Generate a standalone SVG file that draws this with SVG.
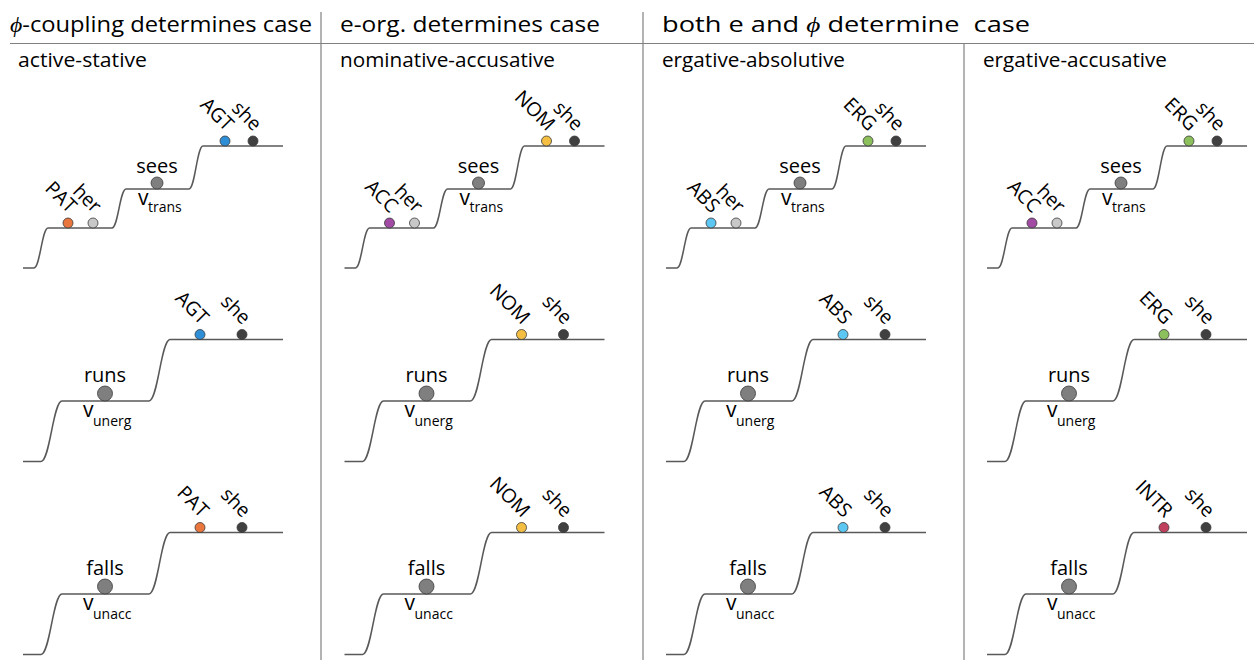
<svg xmlns="http://www.w3.org/2000/svg" xmlns:xlink="http://www.w3.org/1999/xlink" width="1254" height="660" viewBox="0 0 1254 660">
<style>
text{font-family:"Open Sans","Noto Sans","Liberation Sans",sans-serif;fill:#000;font-weight:400}
.title{font-size:21px}
.sub{font-size:20px}
.verb{font-size:20px;text-anchor:middle}
.v{font-size:21px}
.vs{font-size:14px}
.rl{font-size:19.5px;text-anchor:end}
.phi{font-family:"Liberation Serif","DejaVu Serif",serif;font-style:italic}
.div{stroke:#808080;stroke-width:1.2;fill:none}
.step{stroke:#595959;stroke-width:1.5;fill:none}
circle{stroke:#3a3a3a;stroke-width:0.8}
.she{fill:#404040}.her{fill:#c8c8c8}.vb{fill:#7f7f7f}
.pat{fill:#e9773d}.agt{fill:#2f8fd6}.acc{fill:#a24ba5}.nom{fill:#f4be43}
.abs{fill:#5cc7f2}.erg{fill:#8cc05c}.intr{fill:#c1405d}
</style>
<defs>
<path id="s3" class="step" d="M23,268 H34 C40,268 42,228 48,228 H112 C118,228 120,189 126,189 H189 C195,189 197,146 203,146 H283"/>
<path id="s2" class="step" d="M23,461.5 H41 C50,461.5 53,401 62,401 H149 C158,401 161,339.5 170,339.5 H283"/>
</defs>

<g id="headers">
<text class="title" x="10" y="32" textLength="302" lengthAdjust="spacingAndGlyphs"><tspan class="phi">ϕ</tspan>-coupling determines case</text>
<text class="title" x="340" y="32" textLength="260" lengthAdjust="spacingAndGlyphs">e-org. determines case</text>
<text class="title" x="662" y="32" textLength="368" lengthAdjust="spacingAndGlyphs" xml:space="preserve">both e and <tspan class="phi">ϕ</tspan> determine  case</text>
<text class="sub" x="18" y="67" textLength="129" lengthAdjust="spacingAndGlyphs">active-stative</text>
<text class="sub" x="340" y="67" textLength="215" lengthAdjust="spacingAndGlyphs">nominative-accusative</text>
<text class="sub" x="662" y="67" textLength="183" lengthAdjust="spacingAndGlyphs">ergative-absolutive</text>
<text class="sub" x="983" y="67" textLength="184" lengthAdjust="spacingAndGlyphs">ergative-accusative</text>
</g>

<g id="dividers">
<line class="div" x1="10" y1="43.5" x2="1254" y2="43.5"/>
<line class="div" x1="321" y1="12" x2="321" y2="660"/>
<line class="div" x1="643" y1="12" x2="643" y2="660"/>
<line class="div" x1="964" y1="43.5" x2="964" y2="660"/>
</g>

<g id="connectors">
<use xlink:href="#s3"/><use xlink:href="#s2"/><use xlink:href="#s2" transform="translate(0,193)"/>
<g transform="translate(321.5,0)"><use xlink:href="#s3"/><use xlink:href="#s2"/><use xlink:href="#s2" transform="translate(0,193)"/></g>
<g transform="translate(643,0)"><use xlink:href="#s3"/><use xlink:href="#s2"/><use xlink:href="#s2" transform="translate(0,193)"/></g>
<g transform="translate(964,0)"><use xlink:href="#s3"/><use xlink:href="#s2"/><use xlink:href="#s2" transform="translate(0,193)"/></g>
</g>

<!-- Panel 1: active-stative -->
<g id="p1" transform="translate(0,0)">
<g id="p1-r1">
<circle class="pat" cx="68" cy="223" r="5"/><text class="rl" transform="translate(68.5,214) rotate(45)">PAT</text>
<circle class="her" cx="93" cy="223" r="5"/><text class="rl" transform="translate(93.5,214) rotate(45)">her</text>
<circle class="vb" cx="157" cy="183" r="6"/><text class="verb" x="157" y="173">sees</text>
<text class="v" x="138" y="205">v</text><text class="vs" x="148" y="212">trans</text>
<circle class="agt" cx="225" cy="141" r="5"/><text class="rl" transform="translate(225.5,132) rotate(45)">AGT</text>
<circle class="she" cx="253" cy="141" r="5"/><text class="rl" transform="translate(253.5,132) rotate(45)">she</text>
</g>
<g id="p1-r2">
<circle class="vb" cx="105" cy="393.5" r="7.5"/><text class="verb" x="105" y="382">runs</text>
<text class="v" x="83" y="417">v</text><text class="vs" x="93" y="426">unerg</text>
<circle class="agt" cx="200" cy="334.5" r="5"/><text class="rl" transform="translate(200.5,325.5) rotate(45)">AGT</text>
<circle class="she" cx="242" cy="334.5" r="5"/><text class="rl" transform="translate(242.5,325.5) rotate(45)">she</text>
</g>
<g id="p1-r3" transform="translate(0,193)">
<circle class="vb" cx="105" cy="393.5" r="7.5"/><text class="verb" x="105" y="382">falls</text>
<text class="v" x="83" y="417">v</text><text class="vs" x="93" y="426">unacc</text>
<circle class="pat" cx="200" cy="334.5" r="5"/><text class="rl" transform="translate(200.5,325.5) rotate(45)">PAT</text>
<circle class="she" cx="242" cy="334.5" r="5"/><text class="rl" transform="translate(242.5,325.5) rotate(45)">she</text>
</g>
</g>

<!-- Panel 2: nominative-accusative -->
<g id="p2" transform="translate(321.5,0)">
<g id="p2-r1">
<circle class="acc" cx="68" cy="223" r="5"/><text class="rl" transform="translate(68.5,214) rotate(45)">ACC</text>
<circle class="her" cx="93" cy="223" r="5"/><text class="rl" transform="translate(93.5,214) rotate(45)">her</text>
<circle class="vb" cx="157" cy="183" r="6"/><text class="verb" x="157" y="173">sees</text>
<text class="v" x="138" y="205">v</text><text class="vs" x="148" y="212">trans</text>
<circle class="nom" cx="225" cy="141" r="5"/><text class="rl" transform="translate(225.5,132) rotate(45)">NOM</text>
<circle class="she" cx="253" cy="141" r="5"/><text class="rl" transform="translate(253.5,132) rotate(45)">she</text>
</g>
<g id="p2-r2">
<circle class="vb" cx="105" cy="393.5" r="7.5"/><text class="verb" x="105" y="382">runs</text>
<text class="v" x="83" y="417">v</text><text class="vs" x="93" y="426">unerg</text>
<circle class="nom" cx="200" cy="334.5" r="5"/><text class="rl" transform="translate(200.5,325.5) rotate(45)">NOM</text>
<circle class="she" cx="242" cy="334.5" r="5"/><text class="rl" transform="translate(242.5,325.5) rotate(45)">she</text>
</g>
<g id="p2-r3" transform="translate(0,193)">
<circle class="vb" cx="105" cy="393.5" r="7.5"/><text class="verb" x="105" y="382">falls</text>
<text class="v" x="83" y="417">v</text><text class="vs" x="93" y="426">unacc</text>
<circle class="nom" cx="200" cy="334.5" r="5"/><text class="rl" transform="translate(200.5,325.5) rotate(45)">NOM</text>
<circle class="she" cx="242" cy="334.5" r="5"/><text class="rl" transform="translate(242.5,325.5) rotate(45)">she</text>
</g>
</g>

<!-- Panel 3: ergative-absolutive -->
<g id="p3" transform="translate(643,0)">
<g id="p3-r1">
<circle class="abs" cx="68" cy="223" r="5"/><text class="rl" transform="translate(68.5,214) rotate(45)">ABS</text>
<circle class="her" cx="93" cy="223" r="5"/><text class="rl" transform="translate(93.5,214) rotate(45)">her</text>
<circle class="vb" cx="157" cy="183" r="6"/><text class="verb" x="157" y="173">sees</text>
<text class="v" x="138" y="205">v</text><text class="vs" x="148" y="212">trans</text>
<circle class="erg" cx="225" cy="141" r="5"/><text class="rl" transform="translate(225.5,132) rotate(45)">ERG</text>
<circle class="she" cx="253" cy="141" r="5"/><text class="rl" transform="translate(253.5,132) rotate(45)">she</text>
</g>
<g id="p3-r2">
<circle class="vb" cx="105" cy="393.5" r="7.5"/><text class="verb" x="105" y="382">runs</text>
<text class="v" x="83" y="417">v</text><text class="vs" x="93" y="426">unerg</text>
<circle class="abs" cx="200" cy="334.5" r="5"/><text class="rl" transform="translate(200.5,325.5) rotate(45)">ABS</text>
<circle class="she" cx="242" cy="334.5" r="5"/><text class="rl" transform="translate(242.5,325.5) rotate(45)">she</text>
</g>
<g id="p3-r3" transform="translate(0,193)">
<circle class="vb" cx="105" cy="393.5" r="7.5"/><text class="verb" x="105" y="382">falls</text>
<text class="v" x="83" y="417">v</text><text class="vs" x="93" y="426">unacc</text>
<circle class="abs" cx="200" cy="334.5" r="5"/><text class="rl" transform="translate(200.5,325.5) rotate(45)">ABS</text>
<circle class="she" cx="242" cy="334.5" r="5"/><text class="rl" transform="translate(242.5,325.5) rotate(45)">she</text>
</g>
</g>

<!-- Panel 4: ergative-accusative -->
<g id="p4" transform="translate(964,0)">
<g id="p4-r1">
<circle class="acc" cx="68" cy="223" r="5"/><text class="rl" transform="translate(68.5,214) rotate(45)">ACC</text>
<circle class="her" cx="93" cy="223" r="5"/><text class="rl" transform="translate(93.5,214) rotate(45)">her</text>
<circle class="vb" cx="157" cy="183" r="6"/><text class="verb" x="157" y="173">sees</text>
<text class="v" x="138" y="205">v</text><text class="vs" x="148" y="212">trans</text>
<circle class="erg" cx="225" cy="141" r="5"/><text class="rl" transform="translate(225.5,132) rotate(45)">ERG</text>
<circle class="she" cx="253" cy="141" r="5"/><text class="rl" transform="translate(253.5,132) rotate(45)">she</text>
</g>
<g id="p4-r2">
<circle class="vb" cx="105" cy="393.5" r="7.5"/><text class="verb" x="105" y="382">runs</text>
<text class="v" x="83" y="417">v</text><text class="vs" x="93" y="426">unerg</text>
<circle class="erg" cx="200" cy="334.5" r="5"/><text class="rl" transform="translate(200.5,325.5) rotate(45)">ERG</text>
<circle class="she" cx="242" cy="334.5" r="5"/><text class="rl" transform="translate(242.5,325.5) rotate(45)">she</text>
</g>
<g id="p4-r3" transform="translate(0,193)">
<circle class="vb" cx="105" cy="393.5" r="7.5"/><text class="verb" x="105" y="382">falls</text>
<text class="v" x="83" y="417">v</text><text class="vs" x="93" y="426">unacc</text>
<circle class="intr" cx="200" cy="334.5" r="5"/><text class="rl" transform="translate(200.5,325.5) rotate(45)">INTR</text>
<circle class="she" cx="242" cy="334.5" r="5"/><text class="rl" transform="translate(242.5,325.5) rotate(45)">she</text>
</g>
</g>
</svg>
